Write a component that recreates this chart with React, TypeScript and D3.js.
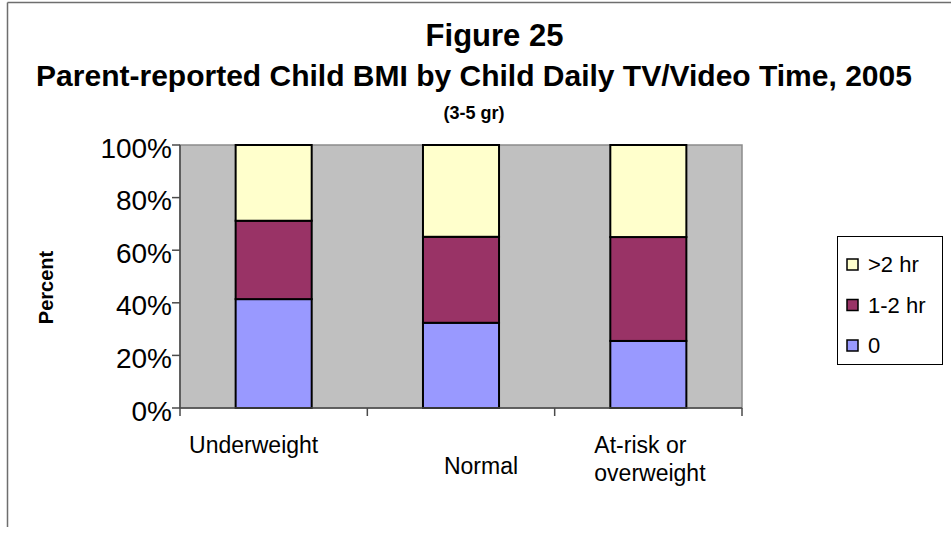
import React from "react";
import * as d3 from "d3";

const categories = ["Underweight", "Normal", "At-risk or\noverweight"];
const seriesKeys = ["0", "1-2 hr", ">2 hr"];
const zeroHr = [41.4, 32.4, 25.5];
const oneTwoHr = [29.8, 32.7, 39.5];
const overTwoHr = [28.8, 34.9, 35.0];
const yTicks = [0, 20, 40, 60, 80, 100];

const colors: Record<string, string> = {
  "0": "#9999FF",
  "1-2 hr": "#993366",
  ">2 hr": "#FFFFCC",
};

const W = 951;
const H = 533;
const plot = { left: 180, right: 742, top: 145, bottom: 408 };
// per-label layout tweaks (x offset from band centre, baseline y, anchor)
const labelLayout = [
  { dx: -20, y: 453, anchor: "middle" },
  { dx: 20, y: 474, anchor: "middle" },
  { dx: -54, y: 453, anchor: "start" },
];

export default function App() {
  const rows = categories.map((c, i) => ({
    cat: c,
    "0": zeroHr[i],
    "1-2 hr": oneTwoHr[i],
    ">2 hr": overTwoHr[i],
  }));
  const x = d3
    .scaleBand<string>()
    .domain(categories)
    .range([plot.left, plot.right])
    .paddingInner(0.594)
    .paddingOuter(0.297);
  const y = d3.scaleLinear().domain([0, 100]).range([plot.bottom, plot.top]);
  const stack = d3.stack<any>().keys(seriesKeys);
  const layers = stack(rows);
  const step = x.step();
  const catTicks = [0, 1, 2, 3].map((i) => plot.left + i * step);
  const font = "Arial, 'Liberation Sans', sans-serif";
  const legendItems = [...seriesKeys].reverse();

  return (
    <svg
      width={W}
      height={H}
      style={{ position: "absolute", left: 0, top: 0, background: "#fff" }}
      fontFamily={font}
    >
      {/* chart frame */}
      <line x1={7.5} y1={2.5} x2={7.5} y2={527} stroke="#6e6e6e" strokeWidth={1.5} />
      <line x1={7.5} y1={2.5} x2={W} y2={2.5} stroke="#6e6e6e" strokeWidth={1.5} />

      {/* titles */}
      <text x={494.5} y={46} textAnchor="middle" fontWeight="bold" fontSize={31}>
        Figure 25
      </text>
      <text x={474} y={86} textAnchor="middle" fontWeight="bold" fontSize={30}>
        Parent-reported Child BMI by Child Daily TV/Video Time, 2005
      </text>
      <text x={474} y={119} textAnchor="middle" fontWeight="bold" fontSize={18}>
        (3-5 gr)
      </text>

      {/* plot area */}
      <rect
        x={plot.left}
        y={plot.top}
        width={plot.right - plot.left}
        height={plot.bottom - plot.top}
        fill="#C0C0C0"
        stroke="#8c8c8c"
        strokeWidth={1.5}
      />

      {/* bars */}
      {layers.map((layer) => (
        <g key={layer.key} fill={colors[layer.key]} stroke="#000" strokeWidth={2}>
          {layer.map((d, i) => (
            <rect
              key={i}
              x={x(categories[i])!}
              y={y(d[1])}
              width={x.bandwidth()}
              height={y(d[0]) - y(d[1])}
            />
          ))}
        </g>
      ))}

      {/* axes */}
      <g stroke="#4a4a4a" strokeWidth={1.5}>
        <line x1={plot.left} y1={plot.top} x2={plot.left} y2={plot.bottom} />
        <line x1={plot.left} y1={plot.bottom} x2={plot.right} y2={plot.bottom} />
        {yTicks.map((t) => (
          <line key={t} x1={plot.left - 8} x2={plot.left} y1={y(t)} y2={y(t)} />
        ))}
        {catTicks.map((t, i) => (
          <line key={i} x1={t} x2={t} y1={plot.bottom} y2={plot.bottom + 8} />
        ))}
      </g>
      {yTicks.map((t) => (
        <text key={t} x={172} y={y(t) + 12.5} textAnchor="end" fontSize={28}>
          {t}%
        </text>
      ))}
      {categories.map((c, i) => {
        const L = labelLayout[i];
        const cx = x(c)! + x.bandwidth() / 2 + L.dx;
        return (
          <text key={c} x={cx} y={L.y} textAnchor={L.anchor as any} fontSize={23}>
            {c.split("\n").map((line, j) => (
              <tspan key={j} x={cx} dy={j === 0 ? 0 : 28}>
                {line}
              </tspan>
            ))}
          </text>
        );
      })}
      <text
        transform="translate(53,287.5) rotate(-90)"
        textAnchor="middle"
        fontWeight="bold"
        fontSize={20}
      >
        Percent
      </text>

      {/* legend */}
      <rect x={837.5} y={236.5} width={105} height={128} fill="#fff" stroke="#000" strokeWidth={1} />
      {legendItems.map((k, i) => (
        <g key={k}>
          <rect
            x={847}
            y={259 + i * 40.5}
            width={11}
            height={11}
            fill={colors[k]}
            stroke="#000"
            strokeWidth={1.5}
          />
          <text x={868} y={272 + i * 40.5} fontSize={22}>
            {k}
          </text>
        </g>
      ))}
    </svg>
  );
}
